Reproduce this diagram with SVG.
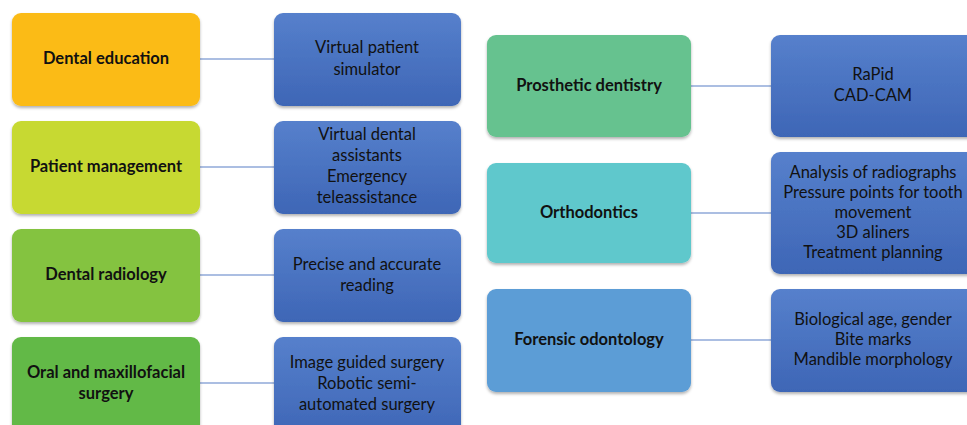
<svg xmlns="http://www.w3.org/2000/svg" width="967" height="425" viewBox="0 0 967 425">
<defs>
<filter id="sh" x="-10%" y="-10%" width="120%" height="125%"><feDropShadow dx="0" dy="2" stdDeviation="1.5" flood-color="#000" flood-opacity="0.3"/></filter>
<linearGradient id="bl" x1="0" y1="0" x2="0" y2="1"><stop offset="0" stop-color="#5680CC"/><stop offset="1" stop-color="#3E66B6"/></linearGradient>
<style>
.n{filter:url(#sh)}
.c{stroke:#8FA8D8;stroke-width:1.5;fill:none}
.h{font-family:Lato,"Open Sans",sans-serif;font-weight:bold;font-size:16.5px;fill:#111;text-anchor:middle}
.t{font-family:Lato,"Open Sans",sans-serif;font-size:16.5px;fill:#111;text-anchor:middle}
.b{fill:url(#bl)}
</style>
</defs>
<rect width="967" height="425" fill="#fff"/>
<g id="connectors">
<line class="c" x1="200" y1="59" x2="274" y2="59"/>
<line class="c" x1="200" y1="167" x2="274" y2="167"/>
<line class="c" x1="200" y1="275" x2="274" y2="275"/>
<line class="c" x1="200" y1="383" x2="274" y2="383"/>
<line class="c" x1="691" y1="86" x2="771" y2="86"/>
<line class="c" x1="691" y1="213" x2="771" y2="213"/>
<line class="c" x1="691" y1="340" x2="771" y2="340"/>
</g>
<g id="dental-education"><rect class="n" x="12" y="13" width="188" height="93" rx="9" fill="#FBBB17"/><text class="h" x="106" y="64">Dental education</text></g>
<g id="patient-management"><rect class="n" x="12" y="121" width="188" height="93" rx="9" fill="#C7D930"/><text class="h" x="106" y="172">Patient management</text></g>
<g id="dental-radiology"><rect class="n" x="12" y="229" width="188" height="93" rx="9" fill="#84C341"/><text class="h" x="106" y="280">Dental radiology</text></g>
<g id="oral-surgery"><rect class="n" x="12" y="337" width="188" height="100" rx="9" fill="#62B946"/><text class="h" x="106" y="378">Oral and maxillofacial</text><text class="h" x="106" y="399">surgery</text></g>
<g id="virtual-patient"><rect class="n b" x="274" y="13" width="187" height="93" rx="9"/><text class="t" x="367" y="53">Virtual patient</text><text class="t" x="367" y="75">simulator</text></g>
<g id="virtual-assistants"><rect class="n b" x="274" y="121" width="187" height="93" rx="9"/><text class="t" x="367" y="140">Virtual dental</text><text class="t" x="367" y="161">assistants</text><text class="t" x="367" y="182">Emergency</text><text class="t" x="367" y="203">teleassistance</text></g>
<g id="precise-reading"><rect class="n b" x="274" y="229" width="187" height="93" rx="9"/><text class="t" x="367" y="270">Precise and accurate</text><text class="t" x="367" y="291">reading</text></g>
<g id="image-guided"><rect class="n b" x="274" y="337" width="187" height="100" rx="9"/><text class="t" x="367" y="368">Image guided surgery</text><text class="t" x="367" y="389">Robotic semi-</text><text class="t" x="367" y="410">automated surgery</text></g>
<g id="prosthetic"><rect class="n" x="487" y="35" width="204" height="102" rx="9" fill="#66C28F"/><text class="h" x="589" y="91">Prosthetic dentistry</text></g>
<g id="orthodontics"><rect class="n" x="487" y="163" width="204" height="100" rx="9" fill="#5FC8CC"/><text class="h" x="589" y="218">Orthodontics</text></g>
<g id="forensic"><rect class="n" x="487" y="289" width="204" height="103" rx="9" fill="#5C9DD6"/><text class="h" x="589" y="345">Forensic odontology</text></g>
<g id="rapid"><rect class="n b" x="771" y="35" width="210" height="102" rx="9"/><text class="t" x="873" y="80">RaPid</text><text class="t" x="873" y="101">CAD-CAM</text></g>
<g id="analysis"><rect class="n b" x="771" y="152" width="210" height="122" rx="9"/><text class="t" x="873" y="178">Analysis of radiographs</text><text class="t" x="873" y="198">Pressure points for tooth</text><text class="t" x="873" y="218">movement</text><text class="t" x="873" y="238">3D aliners</text><text class="t" x="873" y="258">Treatment planning</text></g>
<g id="biological"><rect class="n b" x="771" y="289" width="210" height="103" rx="9"/><text class="t" x="873" y="325">Biological age, gender</text><text class="t" x="873" y="345">Bite marks</text><text class="t" x="873" y="365">Mandible morphology</text></g>
</svg>
